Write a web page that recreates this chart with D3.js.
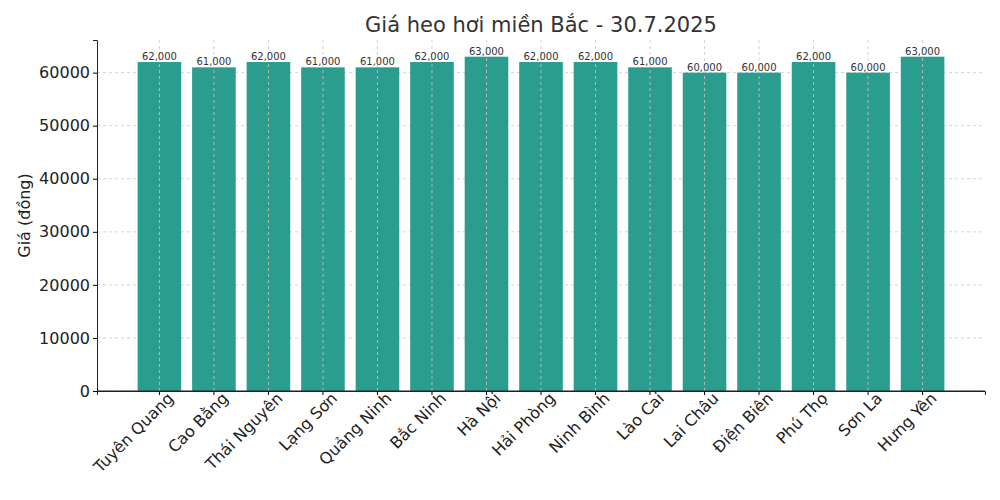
<!DOCTYPE html>
<html><head><meta charset="utf-8">
<script src="https://cdn.jsdelivr.net/npm/d3@7"></script>
<style>body{margin:0;background:#fff}text{font-family:"DejaVu Sans",sans-serif}</style>
</head><body><svg id="c" width="1000" height="500"></svg>
<script>
const categories=["Tuyên Quang","Cao Bằng","Thái Nguyên","Lạng Sơn","Quảng Ninh","Bắc Ninh","Hà Nội","Hải Phòng","Ninh Bình","Lào Cai","Lai Châu","Điện Biên","Phú Thọ","Sơn La","Hưng Yên"];
const values=[62000,61000,62000,61000,61000,62000,63000,62000,62000,61000,60000,60000,62000,60000,63000];
const yTicks=[0,10000,20000,30000,40000,50000,60000];
const svg=d3.select("#c");
const L=97,R=985,T=40,B=391;
const x=d3.scaleBand().domain(categories).range([L,R]).paddingInner(0.2).paddingOuter(0.745);
const y=d3.scaleLinear().domain([0,66150]).range([B,T]);
// grid
svg.append("g").selectAll("line").data(yTicks).join("line").attr("x1",L).attr("x2",R).attr("y1",d=>y(d)).attr("y2",d=>y(d)).attr("stroke","#c8c8c8").attr("stroke-dasharray","3,3").attr("stroke-width",0.8);
svg.append("g").selectAll("rect").data(categories).join("rect").attr("x",d=>x(d)).attr("width",x.bandwidth()).attr("y",(d,i)=>y(values[i])).attr("height",(d,i)=>B-y(values[i])).attr("fill","#2a9d8f");
svg.append("g").selectAll("line").data(categories).join("line").attr("x1",d=>x(d)+x.bandwidth()/2).attr("x2",d=>x(d)+x.bandwidth()/2).attr("y1",T).attr("y2",B).attr("stroke","#c8c8c8").attr("stroke-dasharray","3,3").attr("stroke-width",0.8);
svg.append("g").selectAll("text").data(categories).join("text").attr("x",d=>x(d)+x.bandwidth()/2).attr("y",(d,i)=>y(values[i])-2).attr("text-anchor","middle").attr("font-size",10).attr("fill","#333").text((d,i)=>d3.format(",")(values[i]));
// axes
const ya=svg.append("g").attr("transform",`translate(${L},0)`).call(d3.axisLeft(y).tickValues(yTicks).tickFormat(d=>d).tickSizeOuter(0).tickSize(4));
ya.selectAll("text").attr("font-size",16).attr("fill","#222").attr("font-family","DejaVu Sans");
const xa=svg.append("g").attr("transform",`translate(0,${B})`).call(d3.axisBottom(x).tickSizeOuter(0).tickSize(4));
xa.selectAll("text").attr("font-size",16).attr("fill","#222").attr("font-family","DejaVu Sans").attr("text-anchor","end").attr("dx","0.3em").attr("dy","0.6em").attr("transform","rotate(-45)");
svg.selectAll(".domain").attr("stroke","#222");
svg.append("line").attr("x1",L).attr("x2",R).attr("y1",B).attr("y2",B).attr("stroke","#222");
svg.append("text").attr("x",(L+R)/2).attr("y",32).attr("text-anchor","middle").attr("font-size",21).attr("fill","#333").text("Giá heo hơi miền Bắc - 30.7.2025");
svg.append("text").attr("transform",`translate(30,${(T+B)/2}) rotate(-90)`).attr("text-anchor","middle").attr("font-size",16).attr("fill","#222").text("Giá (đồng)");
</script></body></html>
